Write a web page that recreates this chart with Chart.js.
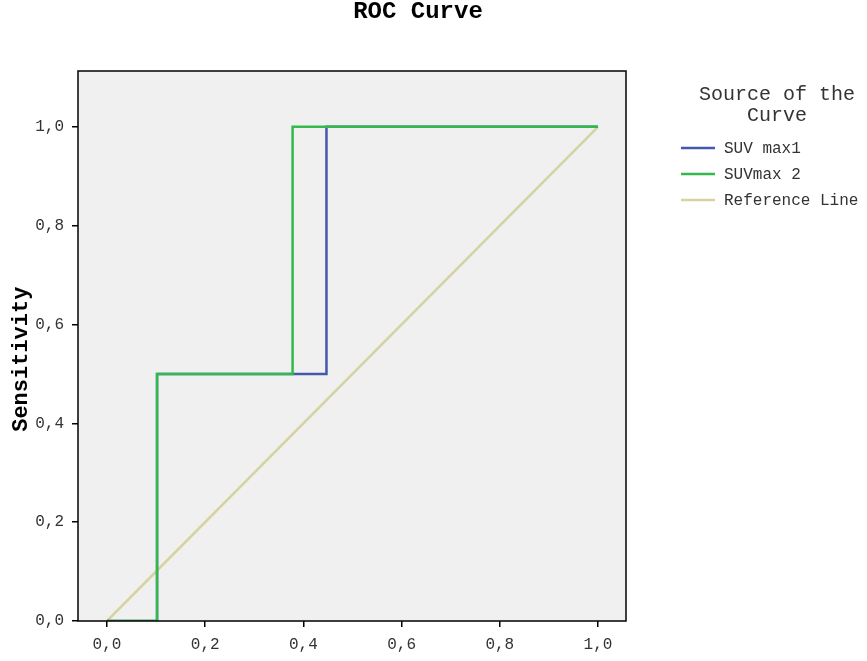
<!DOCTYPE html>
<html>
<head>
<meta charset="utf-8">
<script src="https://cdn.jsdelivr.net/npm/chart.js@4"></script>
<style>
  body { margin: 0; background: #fff; }
  #wrap { width: 867px; height: 661px; }
</style>
</head>
<body>
<div id="wrap"><canvas id="rocChart" width="867" height="661"></canvas></div>
<script>
// ROC points (1 - specificity, sensitivity)
const suv1X = [0, 0.102, 0.102, 0.447, 0.447, 1];
const suv1Y = [0, 0, 0.5, 0.5, 1, 1];
const suv2X = [0, 0.102, 0.102, 0.378, 0.378, 1];
const suv2Y = [0, 0, 0.5, 0.5, 1, 1];
const refX = [0, 1];
const refY = [0, 1];

const seriesNames = ['SUV max1', 'SUVmax 2', 'Reference Line'];
const seriesColors = ['#4459ad', '#35b84c', '#d5d3a0'];

const tickValues = [0, 0.2, 0.4, 0.6, 0.8, 1];
const tickLabels = ['0,0', '0,2', '0,4', '0,6', '0,8', '1,0'];

const mono = '"Liberation Mono", "Courier New", monospace';

function toPoints(xs, ys) {
  return xs.map((x, i) => ({ x: x, y: ys[i] }));
}

// plot background + frame
const frame = {
  id: 'frame',
  beforeDatasetsDraw(chart) {
    const { ctx, chartArea: a } = chart;
    ctx.save();
    ctx.fillStyle = '#f0f0f0';
    ctx.fillRect(a.left, a.top, a.right - a.left, a.bottom - a.top);
    ctx.restore();
  },
  afterDatasetsDraw(chart) {
    const { ctx, chartArea: a } = chart;
    ctx.save();
    ctx.strokeStyle = '#000';
    ctx.lineWidth = 1.5;
    ctx.strokeRect(a.left, a.top, a.right - a.left, a.bottom - a.top);
    ctx.restore();
  }
};

// title over the whole page + legend on the right, SPSS style
const sideLegend = {
  id: 'sideLegend',
  afterDraw(chart) {
    const ctx = chart.ctx;
    ctx.save();
    ctx.fillStyle = '#000';
    ctx.textAlign = 'center';
    ctx.textBaseline = 'middle';
    ctx.font = 'bold 24px ' + mono;
    ctx.fillText('ROC Curve', 418, 12);

    ctx.fillStyle = '#333';
    ctx.font = '20px ' + mono;
    ctx.fillText('Source of the', 777, 95);
    ctx.fillText('Curve', 777, 116);
    ctx.font = '16px ' + mono;
    ctx.textAlign = 'left';
    seriesNames.forEach((name, i) => {
      const y = 148 + i * 26;
      ctx.strokeStyle = seriesColors[i];
      ctx.lineWidth = 2.5;
      ctx.beginPath();
      ctx.moveTo(681, y);
      ctx.lineTo(715, y);
      ctx.stroke();
      ctx.fillText(name, 724, y + 1);
    });
    ctx.restore();
  }
};

const ctx = document.getElementById('rocChart').getContext('2d');

new Chart(ctx, {
  type: 'scatter',
  data: {
    datasets: [
      {
        label: seriesNames[1],
        data: toPoints(suv2X, suv2Y),
        borderColor: seriesColors[1],
        borderWidth: 2.5,
        showLine: true,
        pointRadius: 0,
        order: 0
      },
      {
        label: seriesNames[0],
        data: toPoints(suv1X, suv1Y),
        borderColor: seriesColors[0],
        borderWidth: 2.5,
        showLine: true,
        pointRadius: 0,
        order: 1
      },
      {
        label: seriesNames[2],
        data: toPoints(refX, refY),
        borderColor: seriesColors[2],
        borderWidth: 2.5,
        showLine: true,
        pointRadius: 0,
        order: 2
      }
    ]
  },
  options: {
    responsive: false,
    animation: false,
    layout: { padding: { left: 0, right: 241, top: 71, bottom: 0 } },
    plugins: {
      legend: { display: false },
      tooltip: { enabled: false }
    },
    scales: {
      x: {
        type: 'linear',
        min: -0.059,
        max: 1.057,
        afterBuildTicks(scale) {
          scale.ticks = tickValues.map(v => ({ value: v }));
        },
        afterFit(scale) { scale.height = 40; },
        grid: { drawOnChartArea: false, tickLength: 6, color: '#000', lineWidth: 1.5 },
        border: { display: false },
        ticks: {
          color: '#333',
          padding: 8,
          font: { family: mono, size: 16 },
          callback: (v) => tickLabels[tickValues.indexOf(v)]
        }
      },
      y: {
        type: 'linear',
        min: 0,
        max: 1.113,
        afterBuildTicks(scale) {
          scale.ticks = tickValues.map(v => ({ value: v }));
        },
        afterFit(scale) { scale.width = 78; },
        grid: { drawOnChartArea: false, tickLength: 6, color: '#000', lineWidth: 1.5 },
        border: { display: false },
        ticks: {
          color: '#333',
          padding: 8,
          font: { family: mono, size: 16 },
          callback: (v) => tickLabels[tickValues.indexOf(v)]
        },
        title: {
          display: true,
          text: 'Sensitivity  ',
          color: '#000',
          padding: { top: 8 },
          font: { family: mono, size: 22, weight: 'bold' }
        }
      }
    }
  },
  plugins: [frame, sideLegend]
});
</script>
</body>
</html>
